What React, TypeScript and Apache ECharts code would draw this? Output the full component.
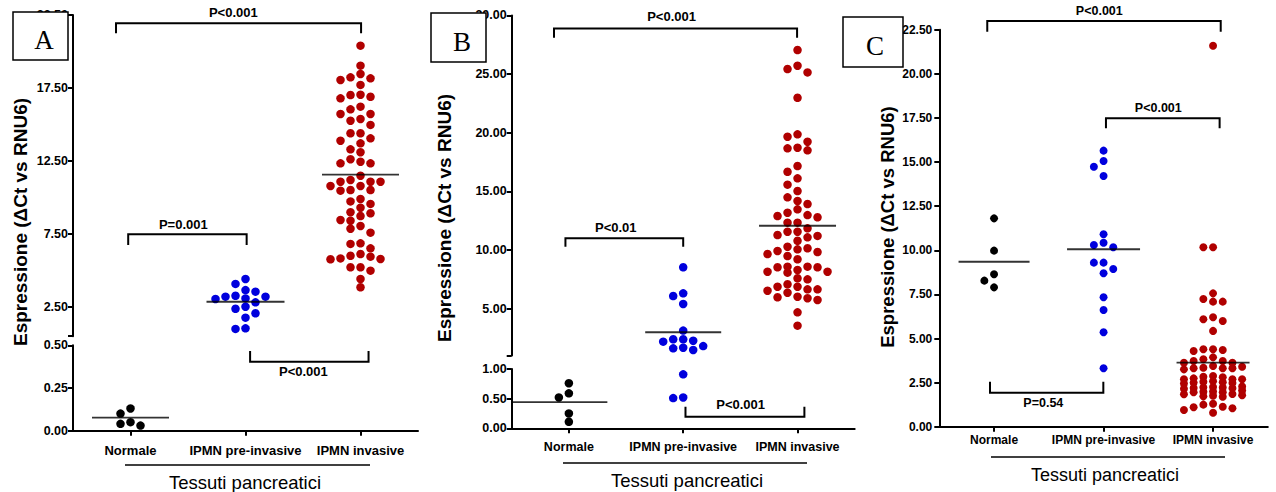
import React, { useEffect, useRef } from 'react';
import * as echarts from 'echarts';

// ---------------- data ----------------
const categories = ['Normale', 'IPMN pre-invasive', 'IPMN invasive'];
const xTitle = 'Tessuti pancreatici';
const yTitle = 'Espressione (ΔCt vs RNU6)';

// Panel A
const aNormale = [0.13, 0.10, 0.05, 0.03, 0.04];
const aPreInvasive = [4.42, 4.08, 3.66, 3.55, 3.27, 3.21, 3.21, 3.09, 3.05, 2.82, 2.52, 2.38, 2.07, 1.77, 1.04, 1.0];
const aInvasive = [
  20.4, 19.03, 18.46, 18.23, 18.16, 18.05, 17.71, 17.04, 17.02, 16.9, 16.79, 16.22, 16.04, 15.72, 15.72,
  15.38, 15.26, 14.97, 14.4, 14.4, 14.05, 13.89, 13.71, 13.3, 13.1, 12.62, 12.45, 12.34, 12.34, 11.49,
  11.2, 11.08, 11.08, 11.08, 10.79, 10.79, 10.51, 10.51, 10.47, 9.9, 9.73, 9.56, 9.3, 8.99, 8.92, 8.73,
  8.46, 8.41, 8.05, 7.86, 7.59, 6.86, 6.82, 6.52, 6.13, 6.01, 5.95, 5.83, 5.79, 5.77, 5.22, 5.22, 4.99,
  4.42, 3.85,
];
const aMedians = [0.076, 2.86, 11.56];
const aUpperTicks = [0.5, 2.5, 7.5, 12.5, 17.5, 22.5];
const aUpperLabels = [2.5, 7.5, 12.5, 17.5, 22.5];
const aLowerTicks = [0, 0.25, 0.5];

// Panel B
const bNormale = [0.76, 0.59, 0.52, 0.25, 0.11];
const bPreInvasive = [8.53, 6.31, 6.08, 5.4, 3.13, 2.39, 2.39, 2.27, 2.19, 1.81, 1.67, 1.62, 1.48, 0.91, 0.52, 0.51];
const bInvasive = [
  27.05, 25.71, 25.43, 25.14, 22.98, 19.86, 19.66, 19.23, 18.72, 18.67, 18.5, 17.16, 16.67, 16.11, 15.57,
  15.03, 14.49, 14.18, 13.92, 13.47, 13.18, 12.98, 12.9, 12.79, 12.33, 12.33, 11.85, 11.56, 11.56, 11.28,
  11.2, 11.08, 10.79, 10.28, 10.15, 10.06, 9.92, 9.83, 9.66, 9.49, 9.21, 8.58, 8.58, 8.53, 8.53, 8.3,
  8.15, 8.15, 8.07, 7.59, 7.5, 7.08, 6.87, 6.87, 6.65, 6.65, 6.53, 6.36, 6.02, 5.97, 5.89, 5.74, 4.69, 3.55,
];
const bMedians = [0.44, 2.99, 12.07];
const bUpperTicks = [1, 5, 10, 15, 20, 25, 30];
const bUpperLabels = [5, 10, 15, 20, 25, 30];
const bLowerTicks = [0, 0.5, 1];

// Panel C
const cNormale = [11.81, 9.98, 8.64, 8.28, 7.9];
const cPreInvasive = [15.65, 15.06, 14.74, 14.21, 10.91, 10.43, 10.3, 10.17, 9.3, 9.3, 8.94, 8.7, 7.34, 6.62, 5.35, 3.31];
const cInvasive = [
  21.6, 10.17, 10.17, 7.56, 7.24, 7.09, 7.09, 6.2, 6.09, 5.99, 5.43, 4.39, 4.39, 4.35, 4.29, 3.93, 3.82,
  3.72, 3.72, 3.63, 3.63, 3.44, 3.4, 3.34, 3.31, 3.31, 3.31, 3.25, 2.87, 2.83, 2.8, 2.74, 2.69, 2.69, 2.69,
  2.58, 2.55, 2.52, 2.5, 2.48, 2.45, 2.28, 2.25, 2.23, 2.22, 2.2, 2.18, 2.15, 2.05, 2.0, 1.98, 1.95, 1.95,
  1.85, 1.84, 1.78, 1.75, 1.72, 1.7, 1.3, 1.25, 1.13, 1.1, 1.05, 0.95, 0.79,
];
const cMedians = [9.35, 10.06, 3.63];
const cTicks = [0, 2.5, 5, 7.5, 10, 12.5, 15, 17.5, 20, 22.5];

// Significance brackets: compared categories (x in category units), level (y value), text
const aBrackets = [
  { seg: 0, x1: -0.126, x2: 2.005, y: 21.93, text: 'P<0.001' },
  { seg: 0, x1: -0.02, x2: 1.01, y: 7.48, text: 'P=0.001' },
  { seg: 1, x1: 1.04, x2: 2.07, y: 0.404, text: 'P<0.001' },
];
const bBrackets = [
  { seg: 0, x1: -0.13, x2: 1.996, y: 28.89, text: 'P<0.001' },
  { seg: 0, x1: -0.03, x2: 1.0, y: 11.0, text: 'P<0.01' },
  { seg: 1, x1: 1.02, x2: 2.06, y: 0.196, text: 'P<0.001' },
];
const cBrackets = [
  { seg: 0, x1: -0.062, x2: 2.07, y: 23.0, text: 'P<0.001' },
  { seg: 0, x1: 1.022, x2: 2.06, y: 17.48, text: 'P<0.001' },
  { seg: 0, x1: -0.037, x2: 0.998, y: 1.93, text: 'P=0.54' },
];

// ---------------- layout / style ----------------
const FONT = '"Liberation Sans", Arial, Helvetica, sans-serif';
const SERIF = '"Liberation Serif", "Times New Roman", serif';
const DOT_COLORS = ['#000000', '#0000dd', '#b00000'];

// bracket styles: leg length (+ down, - up), label x (category units), label dy
const aBracketStyle = [
  { leg: 10, lx: 0.894, ly: -10.6 },
  { leg: 10.7, lx: 0.459, ly: -9.3 },
  { leg: -10.7, lx: 1.503, ly: 10 },
];
const bBracketStyle = [
  { leg: 9.4, lx: 0.898, ly: -12.3 },
  { leg: 8.4, lx: 0.41, ly: -10.3 },
  { leg: -10, lx: 1.502, ly: -11.7 },
];
const cBracketStyle = [
  { leg: 10.7, lx: 0.961, ly: -10 },
  { leg: 10, lx: 1.5, ly: -10 },
  { leg: -11, lx: 0.45, ly: 10.6 },
];

const panels = [
  {
    letter: 'A', box: [13, 12, 55, 48], letterPos: [44, 40],
    left: 73, width: 345,
    segs: [
      { top: 15, height: 321.2, min: 0.5, max: 22.5, ticks: aUpperTicks, labels: aUpperLabels },
      { top: 345.3, height: 85.4, min: 0, max: 0.5, ticks: aLowerTicks, labels: aLowerTicks },
    ],
    groups: [aNormale, aPreInvasive, aInvasive], medians: aMedians,
    medianWidths: [77, 78, 77], medianOffsets: [0, 0, 0],
    brackets: aBrackets, bracketStyle: aBracketStyle,
    slotPx: 10, dotSize: 8.5, tickFont: 12.5, tickMargin: 5, catFont: 13, catMargin: 13, pFont: 13,
    yTitlePos: [20, 222], yTitleFont: 19,
    underline: [125, 370, 465], xTitlePos: [245, 482], xTitleFont: 18.5,
  },
  {
    letter: 'B', box: [431, 13, 55, 49], letterPos: [462, 42],
    left: 511.7, width: 343,
    segs: [
      { top: 15.4, height: 340.2, min: 1, max: 30, ticks: bUpperTicks, labels: bUpperLabels },
      { top: 369, height: 59.3, min: 0, max: 1, ticks: bLowerTicks, labels: bLowerTicks },
    ],
    groups: [bNormale, bPreInvasive, bInvasive], medians: bMedians,
    medianWidths: [95, 76, 77], medianOffsets: [-9, 0, 0],
    brackets: bBrackets, bracketStyle: bBracketStyle,
    slotPx: 10, dotSize: 8.5, tickFont: 12.5, tickMargin: 5, catFont: 12.5, catMargin: 12, pFont: 13,
    yTitlePos: [444, 218], yTitleFont: 19,
    underline: [563, 807, 463], xTitlePos: [687, 480], xTitleFont: 18.5,
  },
  {
    letter: 'C', box: [843, 17, 60, 50], letterPos: [875, 46],
    left: 939.3, width: 328.5,
    segs: [{ top: 29.8, height: 396.9, min: 0, max: 22.5, ticks: cTicks, labels: cTicks }],
    groups: [cNormale, cPreInvasive, cInvasive], medians: cMedians,
    medianWidths: [71, 73, 73], medianOffsets: [0, 0, 0],
    brackets: cBrackets, bracketStyle: cBracketStyle,
    slotPx: 9.7, dotSize: 8, tickFont: 12, tickMargin: 7, catFont: 12, catMargin: 7, pFont: 12.5,
    yTitlePos: [887, 227], yTitleFont: 18.5,
    underline: [991, 1225, 457], xTitlePos: [1105, 475], xTitleFont: 18,
  },
];

type PanelT = (typeof panels)[number];

function segOf(p: PanelT, v: number): number {
  for (let i = p.segs.length - 1; i >= 0; i--) {
    const s = p.segs[i];
    if (v >= s.min && v <= s.max) return i;
  }
  return 0;
}

function valueToPx(p: PanelT, v: number): number {
  const s = p.segs[segOf(p, v)];
  return s.top + ((s.max - v) / (s.max - s.min)) * s.height;
}

// Beeswarm: column slots assigned greedily so dots in a column don't overlap.
function swarm(values: number[], toPx: (v: number) => number, gap: number, maxSlot: number): number[] {
  const order = values.map((_, i) => i).sort((a, b) => values[b] - values[a]);
  const placed: { slot: number; y: number }[] = [];
  const slots = new Array(values.length).fill(0);
  const cand: number[] = [0];
  for (let k = 1; k <= maxSlot; k++) cand.push(-k, k);
  for (const i of order) {
    const y = toPx(values[i]);
    let best = 0;
    let bestD = -1;
    for (const s of cand) {
      let d = Infinity;
      for (const q of placed) if (q.slot === s) d = Math.min(d, Math.abs(q.y - y));
      if (d >= gap) { best = s; bestD = Infinity; break; }
      if (d > bestD) { bestD = d; best = s; }
    }
    placed.push({ slot: best, y });
    slots[i] = best;
  }
  return slots;
}

function buildOption() {
  const grid: any[] = [];
  const xAxis: any[] = [];
  const yAxis: any[] = [];
  const series: any[] = [];
  const graphic: any[] = [];
  const black = '#000';

  panels.forEach((p) => {
    const idx: { x: number; y: number }[] = [];
    p.segs.forEach((s, si) => {
      const isBottom = si === p.segs.length - 1;
      const gi = grid.length;
      grid.push({ left: p.left, top: s.top, width: p.width, height: s.height, containLabel: false, outerBoundsMode: 'none' });
      xAxis.push({
        type: 'category', gridIndex: gi, data: categories, show: isBottom, position: 'bottom',
        axisLine: { show: true, onZero: false, lineStyle: { color: black, width: 2 } },
        axisTick: { show: true, alignWithLabel: true, length: 5, lineStyle: { color: black, width: 2 } },
        axisLabel: { interval: 0, color: black, fontFamily: FONT, fontWeight: 'bold', fontSize: p.catFont, margin: p.catMargin },
        splitLine: { show: false },
      });
      const xv = xAxis.length;
      xAxis.push({ type: 'value', gridIndex: gi, min: -0.5, max: 2.5, show: false });
      const yi = yAxis.length;
      yAxis.push({
        type: 'value', gridIndex: gi, min: s.min, max: s.max,
        axisLine: { show: true, onZero: false, lineStyle: { color: black, width: 2 } },
        axisTick: { show: true, length: 5, lineStyle: { color: black, width: 2 }, customValues: s.ticks },
        axisLabel: {
          customValues: s.labels, formatter: (v: number) => Number(v).toFixed(2),
          color: black, fontFamily: FONT, fontWeight: 'bold', fontSize: p.tickFont, margin: p.tickMargin,
        },
        splitLine: { show: false },
      });
      idx.push({ x: xv, y: yi });
    });

    const catW = p.width / 3;
    // dots
    p.groups.forEach((vals, g) => {
      const slots = swarm(vals, (v) => valueToPx(p, v), p.dotSize - 0.5, 3);
      p.segs.forEach((_, si) => {
        const data: number[][] = [];
        vals.forEach((v, k) => {
          if (segOf(p, v) === si) data.push([g + (slots[k] * p.slotPx) / catW, v]);
        });
        if (data.length) {
          series.push({
            type: 'scatter', xAxisIndex: idx[si].x, yAxisIndex: idx[si].y, data,
            symbol: 'circle', symbolSize: p.dotSize, itemStyle: { color: DOT_COLORS[g], opacity: 1 },
            silent: true, z: 3,
          });
        }
      });
    });
    // medians
    p.segs.forEach((_, si) => {
      const data: any[] = [];
      p.medians.forEach((m, g) => {
        if (segOf(p, m) === si) data.push({ value: [g, m], symbolSize: [p.medianWidths[g], 1.8], symbolOffset: [p.medianOffsets[g], 0] });
      });
      if (data.length) {
        series.push({
          type: 'scatter', xAxisIndex: idx[si].x, yAxisIndex: idx[si].y, data,
          symbol: 'rect', itemStyle: { color: black }, silent: true, z: 4,
        });
      }
    });
    // brackets
    p.segs.forEach((_, si) => {
      const list = p.brackets.map((b, k) => ({ ...b, ...p.bracketStyle[k] })).filter((b) => b.seg === si);
      if (!list.length) return;
      series.push({
        type: 'custom', xAxisIndex: idx[si].x, yAxisIndex: idx[si].y, clip: false, silent: true, z: 5,
        data: list.map((b) => [b.x1, b.y]),
        renderItem: (params: any, api: any) => {
          const b = list[params.dataIndex];
          const a = api.coord([b.x1, b.y]);
          const c = api.coord([b.x2, b.y]);
          const lx = api.coord([b.lx, b.y])[0];
          return {
            type: 'group',
            children: [
              {
                type: 'polyline',
                shape: { points: [[a[0], a[1] + b.leg], [a[0], a[1]], [c[0], c[1]], [c[0], c[1] + b.leg]] },
                style: { stroke: black, lineWidth: 2, fill: 'none' },
              },
              {
                type: 'text', x: lx, y: a[1] + b.ly,
                style: { text: b.text, fill: black, fontFamily: FONT, fontWeight: 'bold', fontSize: p.pFont, align: 'center', verticalAlign: 'middle' },
              },
            ],
          };
        },
      });
    });

    // decorations
    graphic.push({
      type: 'rect', z: 100,
      shape: { x: p.box[0], y: p.box[1], width: p.box[2], height: p.box[3] },
      style: { fill: '#fff', stroke: black, lineWidth: 1.5 },
    });
    graphic.push({
      type: 'text', z: 101, x: p.letterPos[0], y: p.letterPos[1],
      style: { text: p.letter, fill: black, fontFamily: SERIF, fontSize: 27, align: 'center', verticalAlign: 'middle' },
    });
    graphic.push({
      type: 'text', z: 50, x: p.yTitlePos[0], y: p.yTitlePos[1], rotation: Math.PI / 2,
      style: { text: yTitle, fill: black, fontFamily: FONT, fontWeight: 'bold', fontSize: p.yTitleFont, align: 'center', verticalAlign: 'middle' },
    });
    graphic.push({
      type: 'line', z: 50,
      shape: { x1: p.underline[0], y1: p.underline[2], x2: p.underline[1], y2: p.underline[2] },
      style: { stroke: black, lineWidth: 1.3 },
    });
    graphic.push({
      type: 'text', z: 50, x: p.xTitlePos[0], y: p.xTitlePos[1],
      style: { text: xTitle, fill: black, fontFamily: FONT, fontSize: p.xTitleFont, align: 'center', verticalAlign: 'middle' },
    });
  });

  return { animation: false, backgroundColor: '#ffffff', grid, xAxis, yAxis, series, graphic };
}

export default function App() {
  const ref = useRef<HTMLDivElement>(null);
  useEffect(() => {
    if (!ref.current) return;
    const chart = echarts.init(ref.current, undefined, { renderer: 'svg', width: 1276, height: 492 });
    chart.setOption(buildOption() as any);
    return () => chart.dispose();
  }, []);
  return (
    <div
      ref={ref}
      style={{ position: 'absolute', left: 0, top: 0, width: 1276, height: 492, background: '#fff' }}
    />
  );
}
